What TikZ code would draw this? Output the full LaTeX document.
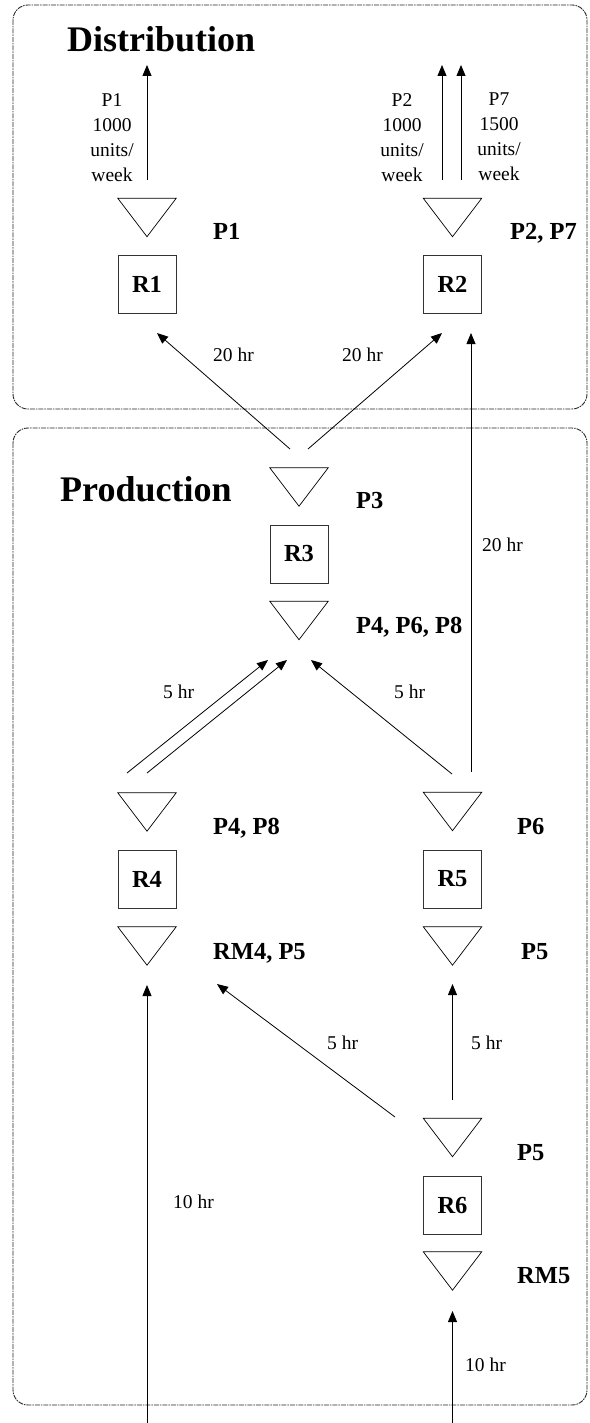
\documentclass[tikz,border=0pt]{standalone}
\usepackage{fontspec}
\setmainfont{Liberation Serif}
\usetikzlibrary{arrows.meta}

\newcommand\titlefnt{\fontsize{36}{40}\selectfont\bfseries}
\newcommand\labfnt{\fontsize{24.5}{28}\selectfont\bfseries}
\newcommand\smallfnt{\fontsize{19.5}{25}\selectfont}

\tikzset{
  frame/.style={draw=black!85, line width=0.9pt,
    dash pattern=on 5pt off 1pt on 1.5pt off 1pt, rounded corners=15pt},
  trinode/.style={inner sep=0pt, minimum width=58pt, minimum height=38pt},
  tri/.style={draw=black, line width=0.7pt},
  resbox/.style={draw=black!80, line width=0.9pt, minimum size=58pt,
    inner sep=0pt, font=\labfnt},
  flow/.style={draw=black, line width=0.8pt, -{Triangle[length=11pt,width=9pt]}},
  tag/.style={anchor=base west, inner sep=0pt, font=\labfnt},
  note/.style={anchor=base west, inner sep=0pt, font=\smallfnt},
  stack/.style={anchor=north, inner sep=0pt, align=center, font=\smallfnt},
  title/.style={anchor=base west, inner sep=0pt, font=\titlefnt}
}

% downward pointing stock triangle: an empty node plus its outline
\newcommand\stock[3]{%
  \node[trinode] (#1) at (#2,#3) {};
  \draw[tri] (#1.north west) -- (#1.north east) -- (#1.south) -- cycle;}

\begin{document}
\begin{tikzpicture}[x=1pt, y=-1pt]
\useasboundingbox (0,0) rectangle (589,1423);

% ---- frames
\draw[frame] (13,5) rectangle (587,409);
\draw[frame] (13,428) rectangle (587,1405);
\node[title] (tdist) at (67,52) {Distribution};
\node[title] (tprod) at (60,501) {Production};

% ---- distribution
\stock{s1}{147}{217.5}
\stock{s2}{452.5}{217.5}
\node[resbox] (r1) at (147,284.5) {R1};
\node[resbox] (r2) at (452.5,284.5) {R2};
\node[tag] (l1) at (213,240) {P1};
\node[tag] (l2) at (510,240) {P2, P7};

\node[stack] (d1) at (112,93) {P1\\1000\\units/\\week};
\node[stack] (d2) at (402,93) {P2\\1000\\units/\\week};
\node[stack] (d7) at (499,93) {P7\\1500\\units/\\week};

% ---- production
\stock{s3}{299}{487}
\node[resbox] (r3) at (299,554) {R3};
\stock{s4}{299}{620.5}
\node[tag] (l3) at (356,508) {P3};
\node[tag] (l4) at (356,633) {P4, P6, P8};

\stock{s5}{147}{812}
\node[resbox] (r4) at (147,879.5) {R4};
\stock{s6}{147}{946}
\node[tag] (l5) at (213,834) {P4, P8};
\node[tag] (l6) at (213,959) {RM4, P5};

\stock{s7}{452.5}{811.5}
\node[resbox] (r5) at (452.5,879) {R5};
\stock{s8}{452.5}{946}
\node[tag] (l7) at (517,834) {P6};
\node[tag] (l8) at (521,959) {P5};

\stock{s9}{452.5}{1137.5}
\node[resbox] (r6) at (452.5,1205) {R6};
\stock{s10}{452.5}{1271}
\node[tag] (l9) at (517,1160) {P5};
\node[tag] (l10) at (517,1283) {RM5};

% ---- connector end points
\coordinate (o1a) at (147,180);   \coordinate (o1b) at (147,65);
\coordinate (o2a) at (442,180);   \coordinate (o2b) at (442,65);
\coordinate (o7a) at (461,180);   \coordinate (o7b) at (461,65);
\coordinate (a1) at (290,449);    \coordinate (b1) at (157,333);
\coordinate (a2) at (308,449);    \coordinate (b2) at (442,333);
\coordinate (a3) at (471,772);    \coordinate (b3) at (471,333);
\coordinate (a4) at (127,773);    \coordinate (b4) at (268,660);
\coordinate (a5) at (147,773);    \coordinate (b5) at (287,660);
\coordinate (a6) at (452,774);    \coordinate (b6) at (311,660);
\coordinate (a7) at (395,1117);   \coordinate (b7) at (217,984);
\coordinate (a8) at (452.5,1100); \coordinate (b8) at (452.5,984);
\coordinate (a9) at (147,1423);   \coordinate (b9) at (147,985);
\coordinate (a10) at (452.5,1423);\coordinate (b10) at (452.5,1311);

\draw[flow] (o1a) -- (o1b);
\draw[flow] (o2a) -- (o2b);
\draw[flow] (o7a) -- (o7b);
\draw[flow] (a1) -- (b1);
\draw[flow] (a2) -- (b2);
\draw[flow] (a3) -- (b3);
\draw[flow] (a4) -- (b4);
\draw[flow] (a5) -- (b5);
\draw[flow] (a6) -- (b6);
\draw[flow] (a7) -- (b7);
\draw[flow] (a8) -- (b8);
\draw[flow] (a9) -- (b9);
\draw[flow] (a10) -- (b10);

% ---- transport times
\node[note] (h1) at (213,361) {20 hr};
\node[note] (h2) at (342,361) {20 hr};
\node[note] (h3) at (482,551) {20 hr};
\node[note] (h4) at (163,698) {5 hr};
\node[note] (h5) at (394,698) {5 hr};
\node[note] (h6) at (327,1049) {5 hr};
\node[note] (h7) at (471,1049) {5 hr};
\node[note] (h8) at (173,1208) {10 hr};
\node[note] (h9) at (465,1371) {10 hr};
\end{tikzpicture}
\end{document}
